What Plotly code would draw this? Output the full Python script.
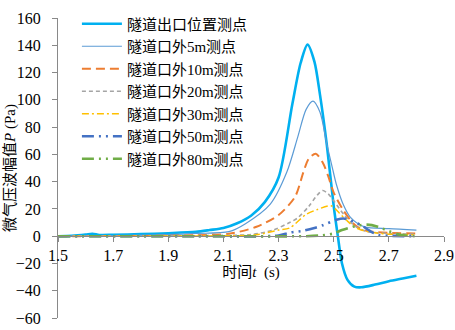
import plotly.graph_objects as go

# ---- data ----
t_exit = [1.5, 1.55, 1.6, 1.625, 1.65, 1.7, 1.8, 1.9, 2.0, 2.05, 2.1, 2.15, 2.2, 2.25, 2.3, 2.35, 2.38, 2.405,
          2.43, 2.45, 2.475, 2.5, 2.515, 2.53, 2.55, 2.575, 2.6, 2.65, 2.7, 2.75, 2.8]
p_exit = [0, 0.3, 1.2, 1.8, 0.9, 1.0, 1.5, 2.2, 3.2, 4.5, 6.0, 9.5, 15, 25, 43, 97, 127, 140.5,
          128, 104, 67, 22, 0, -20, -32, -37, -37.5, -35.5, -33, -31, -29]

t_5m = [1.5, 1.6, 1.7, 1.8, 1.9, 2.0, 2.12, 2.18, 2.27, 2.33, 2.37, 2.4, 2.425, 2.45, 2.475, 2.493,
        2.51, 2.535, 2.56, 2.61, 2.7, 2.8]
p_5m = [0, 0.3, 0.5, 0.8, 1.2, 2.0, 3.3, 9.2, 23.5, 47, 73, 93, 99, 91, 67.5, 52,
        37.7, 23, 14, 7, 5.5, 4.5]

t_10m = [1.5, 1.9, 2.0, 2.12, 2.22, 2.3, 2.36, 2.39, 2.41, 2.435, 2.46, 2.48, 2.5, 2.535, 2.57,
         2.6, 2.63, 2.7, 2.8]
p_10m = [0, 0.3, 0.7, 1.8, 6.9, 15.5, 29, 47, 57, 60.5, 54, 44, 32, 19, 9.5,
         5, 3.5, 2.5, 2]

t_20m = [1.5, 2.0, 2.1, 2.2, 2.28, 2.34, 2.37, 2.41, 2.44, 2.46, 2.48, 2.5, 2.54, 2.58, 2.62, 2.7, 2.8]
p_20m = [0, 0.3, 0.6, 1.2, 4.5, 10, 13.5, 22, 30, 33.5, 31, 26, 15, 7, 3.5, 2, 1.5]

t_30m = [1.5, 2.1, 2.22, 2.3, 2.34, 2.4, 2.44, 2.49, 2.52, 2.55, 2.575, 2.6, 2.65, 2.7, 2.8]
p_30m = [0, 0.3, 1.0, 4.5, 6, 16, 19.5, 22.3, 17, 11, 6.9, 4.5, 2.5, 1.5, 1]

t_50m = [1.5, 2.0, 2.3, 2.34, 2.39, 2.43, 2.46, 2.51, 2.535, 2.56, 2.6, 2.63, 2.66, 2.7, 2.8]
p_50m = [0, 0, 0.5, 2.6, 4, 6, 8, 12, 13, 11.6, 8, 4, 1, 0.3, 0]

t_80m = [1.5, 2.0, 2.4, 2.45, 2.5, 2.53, 2.58, 2.62, 2.66, 2.69, 2.74, 2.8]
p_80m = [0, 0, 0, 0.5, 2, 4.5, 7.5, 8.5, 7, 4.5, 1, 0]

names = ["隧道出口位置测点", "隧道口外5m测点", "隧道口外10m测点", "隧道口外20m测点",
         "隧道口外30m测点", "隧道口外50m测点", "隧道口外80m测点"]

x_ticks = [1.5, 1.7, 1.9, 2.1, 2.3, 2.5, 2.7, 2.9]
y_ticks = [-60, -40, -20, 0, 20, 40, 60, 80, 100, 120, 140, 160]

series = [(t_exit, p_exit), (t_5m, p_5m), (t_10m, p_10m), (t_20m, p_20m),
          (t_30m, p_30m), (t_50m, p_50m), (t_80m, p_80m)]

styles = [
    dict(color="#00B0F0", width=2.6, dash="solid"),
    dict(color="#5B9BD5", width=1.2, dash="solid"),
    dict(color="#ED7D31", width=2.0, dash="9px,5px"),
    dict(color="#A5A5A5", width=1.6, dash="4px,3px"),
    dict(color="#FFC000", width=1.5, dash="7px,3px,2px,3px"),
    dict(color="#4472C4", width=2.6, dash="12px,5px,2px,5px,2px,5px"),
    dict(color="#70AD47", width=2.6, dash="12px,5px,2px,5px,2px,5px"),
]

SERIF = "Liberation Serif, Times New Roman, Noto Sans CJK SC, serif"
CJK = "Liberation Serif, Noto Sans CJK SC, serif"

fig = go.Figure()
for (tx, py), nm, st in zip(series, names, styles):
    fig.add_trace(go.Scatter(x=tx, y=py, name=nm, mode="lines",
                             line=dict(color=st["color"], width=st["width"], dash=st["dash"],
                                       shape="spline", smoothing=0.8)))

y0 = 60 / 220.0
fig.update_layout(
    width=455, height=330,
    margin=dict(l=58, r=11, t=8, b=12),
    paper_bgcolor="white", plot_bgcolor="white",
    showlegend=True,
    legend=dict(x=0.049, y=1.035, xanchor="left", yanchor="top", maxheight=400,
                font=dict(family=CJK, size=15, color="#000"),
                bgcolor="rgba(0,0,0,0)", itemwidth=40, tracegroupgap=0),
    xaxis=dict(range=[1.5, 2.9], tickvals=x_ticks, ticktext=[f"{v:.1f}" for v in x_ticks],
               anchor="free", position=y0, showgrid=False, zeroline=False, automargin=False,
               showline=True, linecolor="#898989", linewidth=1, ticklabeloverflow="allow",
               ticks="outside", ticklen=5, tickcolor="#898989", ticklabelstandoff=0,
               tickfont=dict(family=SERIF, size=16, color="#000"),
               title=dict(text="时间<i>t</i>  (s)", font=dict(family=CJK, size=15, color="#000"),
                          standoff=2)),
    yaxis=dict(range=[-60, 160], tickvals=y_ticks, showgrid=False, zeroline=False, automargin=False,
               showline=True, linecolor="#898989", linewidth=1, ticklabeloverflow="allow",
               ticks="outside", ticklen=5, tickcolor="#898989", ticklabelstandoff=8,
               tickfont=dict(family=SERIF, size=16, color="#000")),
    annotations=[dict(text="微气压波幅值<i>P</i> (Pa)", xref="paper", yref="paper",
                      x=(10 - 58) / 386.0, y=0.5, xanchor="center", yanchor="middle",
                      textangle=-90, showarrow=False,
                      font=dict(family=CJK, size=15, color="#000"))],
)

fig.write_html("out.html", config={"displayModeBar": False},
               post_script="document.body.style.margin='0px';")
